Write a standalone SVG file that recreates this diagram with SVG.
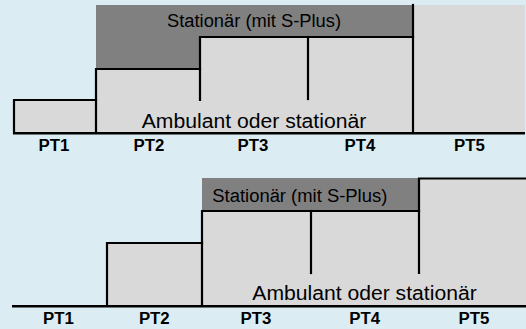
<svg xmlns="http://www.w3.org/2000/svg" width="526" height="329" viewBox="0 0 526 329">
<style>
.bg{fill:#DBEDF3}
.dark{fill:#808080}
.light{fill:#D9D9D9}
.edge{fill:none;stroke:#000;stroke-width:2.2;stroke-linecap:square}
.base{fill:none;stroke:#000;stroke-width:2.6}
.lbl{font-family:"Liberation Sans",Arial,sans-serif;font-size:18px;fill:#000}
.amb{font-size:19.5px}
.pt{font-family:"Liberation Sans",Arial,sans-serif;font-size:16.8px;font-weight:bold;fill:#000;text-anchor:middle}
</style>
<rect class="bg" x="0" y="0" width="526" height="329"/>
<g id="chart-top">
  <g id="top-stationaer">
    <rect class="dark" x="96" y="5" width="317" height="64"/>
    <text class="lbl" x="167" y="26.5" textLength="174" lengthAdjust="spacingAndGlyphs">Stationär (mit S-Plus)</text>
  </g>
  <g id="top-boxes">
    <rect class="light" x="14" y="100" width="82" height="33"/>
    <rect class="light" x="96" y="69" width="104" height="64"/>
    <rect class="light" x="200" y="37" width="213" height="96"/>
    <rect class="light" x="413" y="5" width="112" height="128"/>
    <text class="lbl amb" x="141.7" y="127.5" textLength="224.6" lengthAdjust="spacingAndGlyphs">Ambulant oder stationär</text>
  </g>
  <g id="top-lines">
    <path class="edge" d="M14,133 V100 H96"/>
    <path class="edge" d="M96,133 V69 H200"/>
    <path class="edge" d="M200,100 V37 H413"/>
    <path class="edge" d="M308,37 V99"/>
    <path class="edge" d="M413,5 V133"/>
    <path class="base" d="M13,133.3 H525"/>
  </g>
  <g id="top-labels">
    <text class="pt" x="54" y="151">PT1</text>
    <text class="pt" x="149" y="151">PT2</text>
    <text class="pt" x="253" y="151">PT3</text>
    <text class="pt" x="360" y="151">PT4</text>
    <text class="pt" x="469.5" y="151">PT5</text>
  </g>
</g>
<g id="chart-bottom">
  <g id="bottom-stationaer">
    <rect class="dark" x="202" y="178" width="217" height="33"/>
    <text class="lbl" x="212.3" y="201.8" textLength="175" lengthAdjust="spacingAndGlyphs">Stationär (mit S-Plus)</text>
  </g>
  <g id="bottom-boxes">
    <rect class="light" x="107" y="243" width="95" height="63"/>
    <rect class="light" x="202" y="211" width="217" height="95"/>
    <rect class="light" x="419" y="178" width="107" height="128"/>
    <text class="lbl amb" x="252.3" y="300" textLength="224.4" lengthAdjust="spacingAndGlyphs">Ambulant oder stationär</text>
  </g>
  <g id="bottom-lines">
    <path class="edge" d="M107,306 V243 H202"/>
    <path class="edge" d="M202,306 V211 H419"/>
    <path class="edge" d="M311,211 V273"/>
    <path class="edge" d="M419,273 V178.5 H527"/>
    <path class="base" d="M12,306.3 H526"/>
  </g>
  <g id="bottom-labels">
    <text class="pt" x="58.5" y="324">PT1</text>
    <text class="pt" x="154.3" y="324">PT2</text>
    <text class="pt" x="256" y="324">PT3</text>
    <text class="pt" x="364.7" y="324">PT4</text>
    <text class="pt" x="474" y="324">PT5</text>
  </g>
</g>
</svg>
